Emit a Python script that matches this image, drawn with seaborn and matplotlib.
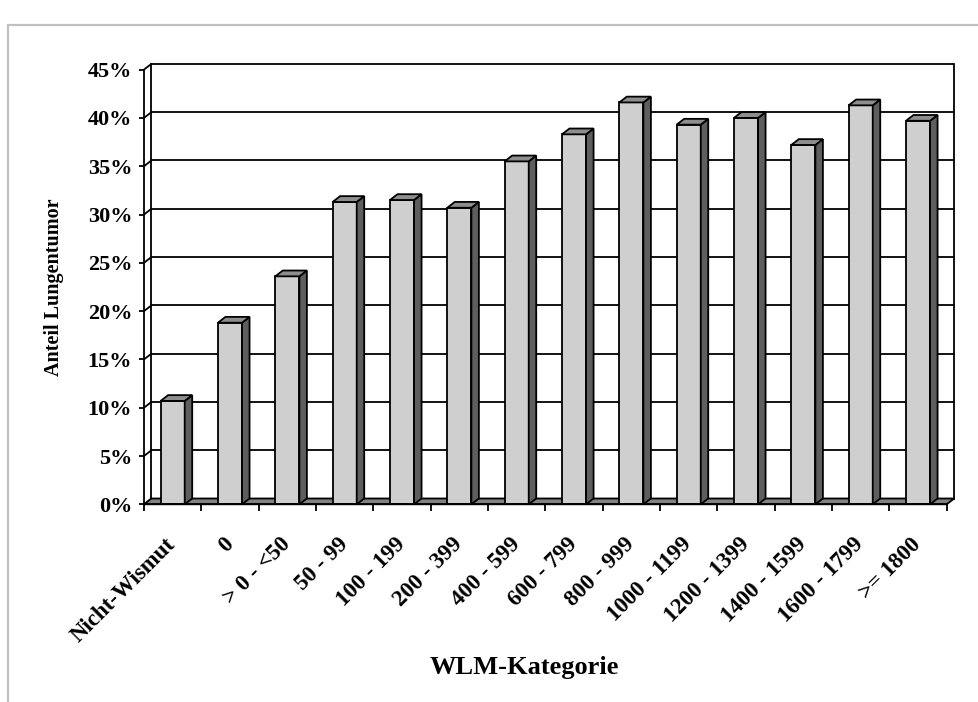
import matplotlib
matplotlib.use("Agg")
import matplotlib.pyplot as plt
from matplotlib.patches import Polygon, Rectangle
from matplotlib.lines import Line2D
import seaborn as sns
import pandas as pd

# Categories of cumulative radon exposure (WLM) and share of lung tumours in %
categories = ["Nicht-Wismut", "0", "> 0 - <50", "50 - 99", "100 - 199", "200 - 399",
              "400 - 599", "600 - 799", "800 - 999", "1000 - 1199", "1200 - 1399",
              "1400 - 1599", "1600 - 1799", ">= 1800"]
share = [10.7, 18.8, 23.6, 31.3, 31.5, 30.7, 35.5, 38.3, 41.6, 39.3, 40.0, 37.2, 41.3, 39.7]
y_ticks = [0, 5, 10, 15, 20, 25, 30, 35, 40, 45]
y_tick_labels = [f"{t}%" for t in y_ticks]

df = pd.DataFrame({"WLM-Kategorie": categories, "Anteil": share})

sns.set_theme(style="white")
plt.rcParams["font.family"] = ["Liberation Serif", "DejaVu Serif"]
plt.rcParams["font.weight"] = "bold"
for key in ["text.color", "axes.labelcolor", "xtick.color", "ytick.color"]:
    plt.rcParams[key] = "black"

W, H, DPI = 979, 702, 100
fig = plt.figure(figsize=(W / DPI, H / DPI), dpi=DPI)
fig.patch.set_facecolor("white")

# front plane of the 3-D box in pixels
left_px, right_px = 144.0, 946.7
bottom_px, top_px = 504.3, 69.6
ax = fig.add_axes([left_px / W, 1 - bottom_px / H,
                   (right_px - left_px) / W, (bottom_px - top_px) / H])
ax.set_facecolor("none")

FRONT = "#cfcfcf"
SIDE = "#5e5e5e"
TOP = "#8e8e8e"
FLOOR = "#828282"
LW = 1.3
bar_w = 0.42

sns.barplot(data=df, x="WLM-Kategorie", y="Anteil", color=FRONT, saturation=1,
            width=bar_w, edgecolor="black", linewidth=LW, ax=ax, zorder=3)

n = len(categories)
x_lo, x_hi = -0.5, n - 0.5
y_lo, y_hi = 0, 45
ax.set_xlim(x_lo, x_hi)
ax.set_ylim(y_lo, y_hi)

# depth of the box expressed in data units
dx = 7.5 / ((right_px - left_px) / n)
dy = 5.8 / ((bottom_px - top_px) / (y_hi - y_lo))

# back wall with its gridlines
ax.add_patch(Rectangle((x_lo + dx, y_lo + dy), x_hi - x_lo, y_hi - y_lo,
                       facecolor="white", edgecolor="black", lw=LW,
                       zorder=0.5, clip_on=False))
for t in y_ticks[1:-1]:
    ax.add_line(Line2D([x_lo + dx, x_hi + dx], [t + dy, t + dy], color="black",
                       lw=LW, zorder=0.6, clip_on=False))
# side wall lines joining the axis ticks with the back wall
for t in y_ticks:
    ax.add_line(Line2D([x_lo, x_lo + dx], [t, t + dy], color="black",
                       lw=LW, zorder=0.6, clip_on=False))

# floor
ax.add_patch(Polygon([(x_lo, 0), (x_hi, 0), (x_hi + dx, dy), (x_lo + dx, dy)],
                     closed=True, facecolor=FLOOR, edgecolor="black", lw=LW,
                     zorder=0.8, clip_on=False))

# side and top faces of each column
for p in list(ax.patches):
    if not isinstance(p, Rectangle) or abs(p.get_width() - bar_w) > 1e-6:
        continue
    x0, w, h = p.get_x(), p.get_width(), p.get_height()
    ax.add_patch(Polygon([(x0 + w, 0), (x0 + w + dx, dy), (x0 + w + dx, h + dy), (x0 + w, h)],
                         closed=True, facecolor=SIDE, edgecolor="black", lw=LW,
                         zorder=3, clip_on=False))
    ax.add_patch(Polygon([(x0, h), (x0 + w, h), (x0 + w + dx, h + dy), (x0 + dx, h + dy)],
                         closed=True, facecolor=TOP, edgecolor="black", lw=LW,
                         zorder=3, clip_on=False))

# axes lines
for s in ["top", "right"]:
    ax.spines[s].set_visible(False)
for s in ["left", "bottom"]:
    ax.spines[s].set_visible(True)
    ax.spines[s].set_color("black")
    ax.spines[s].set_linewidth(LW)
    ax.spines[s].set_zorder(4)

ax.set_yticks(y_ticks)
ax.set_yticklabels(y_tick_labels)
ax.tick_params(axis="y", which="major", direction="out", length=3.5, width=LW,
               color="black", labelcolor="black", pad=5, labelsize=16, left=True)

ax.set_xticks(range(n))
ax.set_xticklabels(categories)
ax.set_xticks([i - 0.5 for i in range(n + 1)], minor=True)
ax.tick_params(axis="x", which="major", length=0, pad=26.5, labelsize=16.5,
               labelcolor="black")
ax.tick_params(axis="x", which="minor", direction="out", length=5, width=LW,
               color="black", bottom=True)
for lbl in ax.get_xticklabels():
    lbl.set_rotation(45)
    lbl.set_ha("right")
    lbl.set_va("center")
    lbl.set_rotation_mode("anchor")
    lbl.set_fontweight("bold")
for lbl in ax.get_yticklabels():
    lbl.set_fontweight("bold")

ax.grid(False)
ax.set_ylabel("Anteil Lungentumor", fontsize=14.5, fontweight="bold", color="black")
ax.yaxis.set_label_coords((64 - left_px) / (right_px - left_px), 0.5)
ax.set_xlabel("WLM-Kategorie", fontsize=19, fontweight="bold", color="black")
ax.xaxis.set_label_coords((524 - left_px) / (right_px - left_px),
                          (bottom_px - 656) / (bottom_px - top_px))

# light outer frame of the chart area
fig.add_artist(Rectangle((8 / W, -0.1), 1.2, (H - 25) / H + 0.1,
                         transform=fig.transFigure, fill=False,
                         edgecolor="#c0c0c0", lw=1.6))

fig.savefig("out.png", dpi=DPI)
